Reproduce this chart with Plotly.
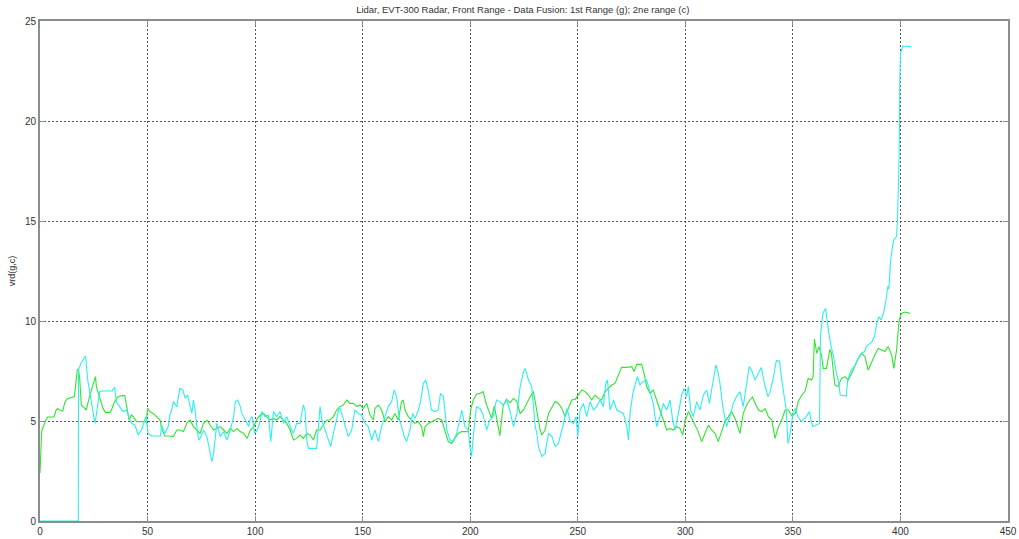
import plotly.graph_objects as go

# 1st range (green) samples
range1_x = [0.0, 0.8, 2.5, 3.6, 6.5, 7.5, 8.2, 9.0, 10.6, 11.4, 12.5, 16.0, 17.3, 17.8, 18.4,
            19.2, 20.0, 21.5, 23.0, 25.4, 25.8, 26.2, 27.7, 29.3, 30.5, 32.4, 33.2, 34.7, 36.3,
            37.8, 39.4, 40.2, 41.4, 42.5, 43.3, 44.9, 47.0, 49.5, 50.0, 51.0, 52.6, 54.2, 55.8,
            56.5, 58.0, 60.5, 62.0, 63.6, 65.0, 66.7, 68.2, 69.8, 71.3, 72.9, 74.4, 76.0, 77.6,
            79.1, 80.7, 82.2, 83.8, 85.4, 86.9, 88.5, 90.0, 91.6, 93.1, 94.7, 96.3, 97.8, 99.4,
            101.0, 102.5, 103.9, 105.4, 107.0, 108.5, 110.0, 111.6, 113.2, 114.7, 116.3, 117.8,
            119.3, 120.9, 122.4, 124.0, 125.5, 127.1, 128.6, 130.2, 131.7, 133.3, 134.8, 136.4,
            137.9, 139.5, 141.0, 142.6, 144.1, 145.7, 147.2, 148.8, 150.3, 151.9, 153.4, 155.0,
            155.7, 157.3, 158.8, 160.4, 161.9, 163.5, 165.0, 166.6, 168.1, 168.9, 169.7, 171.2,
            172.8, 174.3, 175.9, 177.4, 178.2, 179.0, 180.5, 182.0, 183.6, 185.1, 186.7, 188.2,
            189.8, 191.3, 192.9, 194.4, 196.0, 197.5, 199.1, 200.2, 201.4, 202.9, 204.5, 206.0,
            207.6, 209.1, 209.9, 211.2, 212.6, 213.8, 215.3, 216.9, 218.5, 220.1, 221.7, 223.2,
            224.8, 226.3, 227.9, 229.4, 231.0, 231.7, 232.5, 233.3, 234.8, 236.4, 238.0, 239.5,
            241.0, 242.6, 244.1, 245.7, 247.2, 248.8, 250.3, 251.9, 253.4, 255.0, 256.5, 258.0,
            259.6, 261.1, 262.7, 264.2, 265.8, 267.3, 268.9, 270.4, 272.8, 275.1, 276.2, 277.4,
            279.7, 280.8, 282.0, 283.6, 285.1, 286.7, 288.2, 289.8, 291.3, 292.9, 294.4, 296.0,
            297.5, 298.8, 300.0, 301.4, 302.9, 304.5, 306.0, 307.6, 309.1, 310.7, 312.2, 313.8,
            315.3, 316.9, 318.4, 320.0, 321.5, 323.1, 324.6, 325.4, 326.9, 328.5, 330.0, 331.2,
            332.4, 334.0, 335.5, 337.1, 338.6, 340.2, 341.7, 343.3, 344.8, 346.4, 347.9, 349.5,
            351.1, 352.6, 354.2, 355.7, 357.1, 358.7, 359.4, 360.0, 361.1, 362.1, 363.3, 364.1,
            365.6, 367.2, 367.9, 368.7, 369.5, 371.0, 372.6, 374.2, 375.7, 377.3, 378.8, 380.4,
            381.9, 383.5, 385.0, 386.6, 388.1, 389.7, 391.2, 392.8, 394.3, 395.9, 396.9, 398.2,
            399.4, 400.5, 402.1, 404.4]
range1_v = [2.40, 4.50, 5.00, 5.20, 5.20, 5.55, 5.62, 5.55, 5.50, 5.88, 6.10, 6.22, 7.55, 7.60, 7.20,
            5.80, 5.72, 5.55, 6.22, 7.13, 7.22, 6.72, 6.13, 5.63, 5.42, 5.42, 5.55, 5.97, 6.22,
            6.27, 6.27, 5.80, 5.05, 5.30, 5.22, 4.97, 4.97, 4.97, 5.63, 5.47, 5.38, 5.22, 5.05,
            4.63, 4.25, 4.25, 4.22, 4.55, 4.55, 4.47, 4.88, 5.05, 4.72, 4.55, 4.38, 4.88, 5.05,
            4.80, 4.55, 4.63, 4.72, 4.55, 4.38, 4.63, 4.47, 4.63, 4.47, 4.38, 4.13, 4.55, 4.72,
            5.13, 5.30, 5.38, 5.22, 5.05, 5.13, 5.05, 5.22, 5.05, 4.88, 4.55, 4.05,
            4.13, 4.30, 4.13, 4.38, 4.30, 4.05, 4.55, 4.55, 4.80, 5.05, 5.05, 5.22,
            5.55, 5.72, 5.80, 6.05, 5.88, 5.88, 5.72, 5.80, 5.63, 5.88, 5.30, 5.05,
            5.63, 5.80, 5.55, 4.97, 5.22, 5.05, 5.38, 5.05, 5.97, 6.05, 5.55, 5.22,
            5.05, 4.88, 4.97, 4.72, 4.22, 4.72, 4.88, 4.97, 5.05, 5.13, 5.05, 4.55,
            3.97, 3.88, 4.13, 4.38, 4.47, 4.47, 4.47, 5.55, 6.05, 6.34, 6.38, 6.47,
            5.80, 5.38, 5.13, 5.75, 5.00, 4.26, 5.76, 6.09, 5.90, 6.13, 5.97, 5.38,
            5.55, 5.88, 6.22, 6.47, 5.55, 5.05, 4.55, 4.30, 4.55, 5.38, 5.72, 5.97,
            5.88, 5.63, 5.22, 5.63, 6.05, 6.08, 6.30, 6.55, 6.47, 6.30, 6.05, 6.30,
            6.13, 6.05, 6.47, 6.63, 6.80, 6.88, 7.30, 7.68, 7.68, 7.72, 7.47, 7.83,
            7.83, 7.38, 6.72, 6.38, 6.55, 5.97, 5.55, 5.05, 4.55, 4.63, 4.55, 4.72,
            4.63, 4.30, 5.05, 5.47, 5.13, 4.80, 4.47, 3.97, 4.38, 4.80, 4.55, 4.38,
            3.97, 4.55, 4.97, 5.22, 5.47, 5.13, 4.55, 4.38, 5.38, 5.80, 6.05, 6.20,
            5.90, 5.55, 5.47, 5.62, 5.22, 5.05, 4.13, 4.72, 5.05, 5.55, 5.55, 5.25,
            5.38, 6.00, 6.30, 6.50, 7.13, 7.05, 7.22, 9.10, 8.38, 8.72, 8.30, 7.63,
            7.63, 8.58, 8.40, 7.72, 6.80, 6.72, 7.13, 7.22, 7.05, 7.38, 7.72, 8.13,
            8.38, 8.22, 7.55, 7.97, 8.30, 8.63, 8.55, 8.47, 8.72, 8.30, 7.63, 8.55,
            10.05, 10.38, 10.45, 10.38]

# 2nd range (cyan) samples
range2_x = [0.0, 17.8, 17.9, 19.0, 20.0, 21.2, 22.2, 23.8, 25.0, 25.6, 26.9, 27.7, 28.5, 33.5,
            34.7, 35.5, 37.0, 38.6, 40.2, 41.0, 42.5, 44.1, 45.7, 47.2, 48.3, 49.2, 50.3, 52.0,
            56.0, 56.5, 58.1, 59.6, 60.4, 61.2, 62.0, 63.6, 65.0, 66.4, 67.5, 68.6, 69.8, 70.6,
            71.3, 72.1, 72.9, 73.7, 74.4, 76.0, 77.6, 79.1, 79.9, 80.7, 82.2, 83.8, 85.4, 86.9,
            88.5, 90.0, 90.8, 91.9, 93.1, 93.9, 95.5, 97.0, 97.8, 98.6, 99.8, 101.0, 102.3,
            103.1, 104.6, 106.2, 107.3, 108.5, 110.0, 111.6, 113.2, 114.7, 116.3, 117.8, 119.3,
            120.9, 122.4, 123.2, 124.0, 124.8, 128.6, 129.4, 130.2, 131.0, 132.5, 134.0, 135.1,
            136.4, 137.9, 139.2, 140.2, 141.8, 143.3, 144.9, 146.4, 148.0, 149.5, 151.1, 152.6,
            154.2, 155.7, 157.3, 158.8, 160.4, 161.9, 163.5, 164.6, 165.8, 167.1, 168.1, 169.3,
            170.4, 172.0, 173.2, 174.3, 175.9, 176.9, 178.2, 179.3, 180.5, 182.0, 183.6, 185.1,
            186.2, 187.5, 188.2, 189.1, 190.6, 192.2, 193.7, 195.2, 196.1, 197.5, 199.1, 199.9,
            200.6, 201.7, 202.9, 204.5, 206.0, 207.6, 209.1, 210.7, 212.2, 213.8, 215.3, 216.9,
            218.4, 220.1, 221.7, 223.2, 224.8, 225.5, 227.1, 228.6, 229.4, 230.2, 231.0, 231.7,
            233.3, 234.8, 236.4, 238.0, 239.5, 241.0, 242.6, 244.1, 245.0, 246.5, 248.0, 249.2,
            250.0, 251.1, 252.6, 254.2, 255.7, 257.3, 258.8, 260.4, 261.9, 263.0, 263.8, 265.0,
            266.6, 268.1, 269.7, 271.2, 272.8, 273.6, 274.3, 275.6, 276.6, 277.7, 278.9, 280.4,
            282.0, 283.6, 285.1, 285.9, 286.7, 288.2, 289.8, 291.3, 292.9, 294.1, 295.2, 296.8,
            298.3, 299.4, 300.6, 301.4, 302.5, 303.7, 305.3, 306.8, 308.4, 309.9, 311.2, 312.2,
            313.4, 314.2, 315.3, 316.1, 317.4, 318.4, 319.2, 320.7, 322.3, 323.8, 325.4, 326.9,
            328.5, 329.7, 330.8, 332.4, 333.9, 335.3, 336.8, 338.4, 339.2, 340.7, 342.3, 343.8,
            344.6, 345.7, 346.9, 347.7, 348.5, 349.2, 350.0, 351.2, 352.3, 353.9, 354.6, 356.2,
            357.7, 358.5, 359.3, 360.8, 362.4, 362.8, 363.9, 365.2, 365.8, 366.7, 367.8, 368.9,
            370.1, 371.4, 372.0, 374.8, 375.5, 377.1, 378.6, 380.2, 381.7, 383.3, 384.1, 385.6,
            386.8, 387.9, 389.0, 390.0, 391.0, 392.1, 393.3, 394.1, 394.6, 395.0, 395.3, 396.3,
            396.9, 398.2, 398.6, 399.1, 399.4, 399.7, 400.0, 400.5, 401.2, 405.0]
range2_v = [0.00, 0.00, 7.55, 7.88, 8.05, 8.25, 7.05, 5.88, 5.22, 4.88, 5.88, 6.47, 6.50, 6.50,
            6.68, 5.97, 5.72, 5.47, 5.55, 5.30, 4.88, 4.80, 4.30, 4.55, 4.88, 5.22, 4.38, 4.25,
            4.25, 4.80, 4.38, 4.72, 5.30, 5.55, 5.97, 5.72, 6.63, 6.55, 6.13, 6.30, 5.72, 5.38,
            6.05, 5.55, 4.72, 4.05, 4.13, 4.55, 4.22, 3.38, 2.97, 3.38, 4.88, 4.22, 4.47, 4.05,
            4.55, 5.22, 5.97, 6.05, 5.72, 5.38, 5.05, 4.72, 5.13, 5.22, 4.38, 4.55, 4.97,
            5.47, 5.22, 5.30, 3.97, 5.47, 5.22, 5.47, 4.88, 5.22, 4.72, 4.38, 4.88,
            4.88, 5.80, 5.55, 4.05, 3.63, 3.63, 4.72, 5.72, 5.05, 4.55, 4.05, 3.72,
            4.38, 5.05, 5.72, 5.38, 4.72, 4.22, 4.55, 5.55, 5.38, 5.30, 4.88, 4.72,
            4.05, 4.55, 3.97, 4.72, 5.22, 5.72, 5.97, 6.55, 6.22, 5.05, 4.72, 4.22,
            3.97, 4.55, 5.38, 5.13, 5.55, 5.97, 6.88, 7.05, 6.55, 5.55, 5.47, 5.55,
            6.38, 6.22, 5.55, 4.55, 4.05, 3.97, 4.38, 5.22, 5.55, 4.72, 4.55, 3.72,
            3.22, 4.55, 5.72, 5.63, 5.30, 4.55, 5.05, 5.22, 6.05, 5.97, 5.80, 6.05,
            5.55, 4.72, 5.38, 6.72, 7.47, 7.63, 7.05, 6.72, 5.55, 4.72, 4.38, 3.72,
            3.22, 3.38, 4.38, 4.22, 3.72, 3.88, 4.55, 5.22, 5.63, 4.97, 4.88, 5.22,
            4.22, 5.55, 5.88, 5.22, 5.97, 5.55, 5.72, 6.05, 5.72, 6.88, 7.05, 5.55,
            6.05, 5.55, 5.47, 5.38, 4.72, 4.05, 5.38, 6.38, 6.80, 7.22, 6.80, 6.97,
            7.05, 6.38, 5.88, 5.22, 4.72, 5.22, 5.88, 5.55, 6.05, 5.05, 4.55, 5.38,
            6.30, 6.63, 6.22, 6.72, 5.55, 5.22, 5.97, 5.55, 6.30, 6.55, 5.88, 6.55,
            7.38, 7.80, 7.38, 6.88, 5.72, 5.05, 4.72, 5.22, 5.88, 6.22, 6.47, 5.72,
            6.88, 7.72, 7.55, 7.05, 7.38, 7.68, 6.88, 6.22, 6.38, 7.05, 8.02, 8.00,
            7.22, 6.38, 5.55, 3.88, 4.22, 4.72, 5.38, 5.63, 5.22, 4.97, 5.05, 5.22,
            5.47, 4.97, 4.72, 4.80, 4.88, 9.22, 10.38, 10.63, 10.05, 9.38, 8.72, 8.22,
            7.47, 6.88, 6.30, 6.25, 7.05, 7.55, 7.72, 8.13, 8.38, 8.47, 8.72, 8.88,
            8.97, 9.22, 9.88, 10.22, 10.05, 10.38, 11.05, 11.72, 11.60, 12.22, 12.88, 13.72,
            14.05, 14.22, 15.05, 16.88, 18.38, 21.72, 23.38, 23.55, 23.75, 23.72]

x_ticks = [0, 50, 100, 150, 200, 250, 300, 350, 400, 450]
y_ticks = [0, 5, 10, 15, 20, 25]

title_text = "Lidar, EVT-300 Radar, Front Range - Data Fusion: 1st Range (g); 2ne range (c)"
y_title = "vrd(g,c)"

fig = go.Figure()
fig.add_trace(go.Scatter(x=range1_x, y=range1_v, mode="lines", name="g",
                         line=dict(color="#2ee62e", width=1.1)))
fig.add_trace(go.Scatter(x=range2_x, y=range2_v, mode="lines", name="c",
                         line=dict(color="#2eeef0", width=1.1)))

axis_common = dict(
    showline=True, linecolor="#8c8c8c", linewidth=2, mirror="ticks",
    ticks="inside", ticklen=5, tickcolor="#8c8c8c", tickwidth=1,
    showgrid=True, gridcolor="#555555", gridwidth=1, griddash="2px,2px",
    zeroline=False, automargin=False,
    tickfont=dict(family="Liberation Sans, Arial, sans-serif", size=10, color="#333333"),
)

fig.update_layout(
    width=1019, height=539,
    margin=dict(l=40, r=11, t=21, b=18),
    paper_bgcolor="white", plot_bgcolor="white",
    showlegend=False,
    title=dict(text=title_text, x=0.513, xanchor="center", y=0.982, yanchor="middle",
               font=dict(family="Liberation Sans, Arial, sans-serif", size=9.5, color="#333333")),
    xaxis=dict(range=[0, 450], tickvals=x_ticks, ticktext=[str(v) for v in x_ticks], **axis_common),
    yaxis=dict(range=[0, 25], tickvals=y_ticks, ticktext=[str(v) for v in y_ticks],
               title=dict(text=y_title, standoff=8,
                          font=dict(family="Liberation Sans, Arial, sans-serif", size=9, color="#333333")),
               **axis_common),
)

fig.write_html("out.html")
